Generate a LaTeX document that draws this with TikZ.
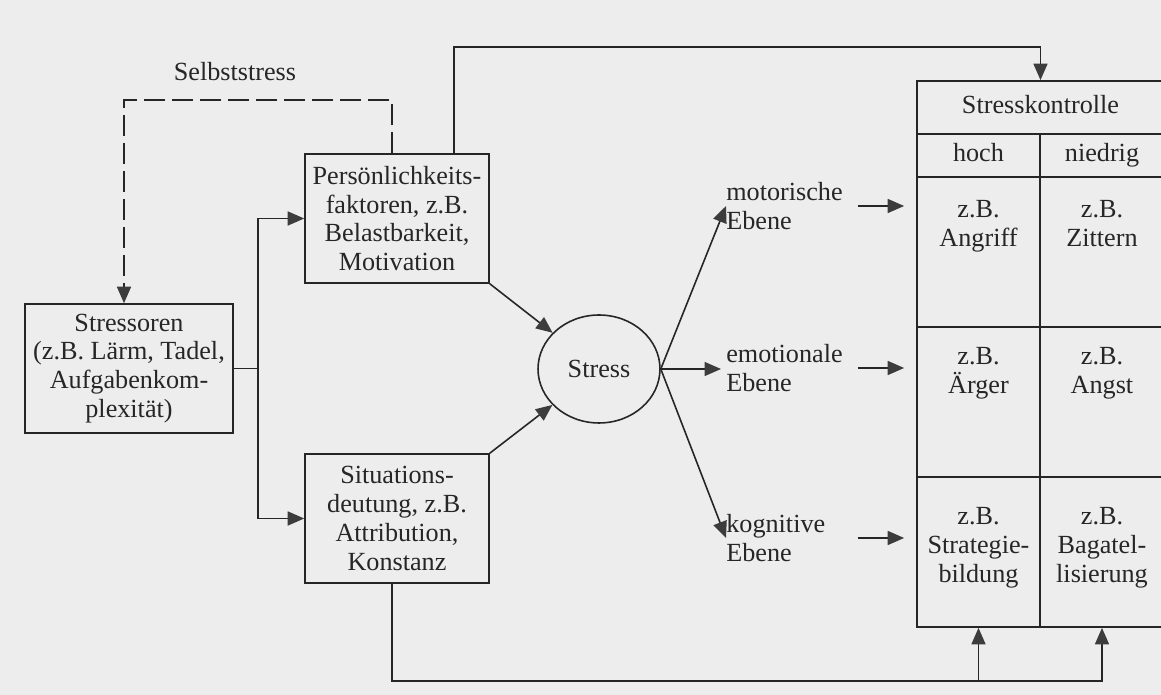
\documentclass[tikz,border=0pt]{standalone}
\usepackage{fontspec}
\setmainfont{Liberation Serif}
\usepackage{tikz}
\usetikzlibrary{arrows.meta,positioning,calc,shapes.geometric}
\definecolor{druck}{HTML}{262626}
\definecolor{spitze}{HTML}{3C3C3C}
\definecolor{papier}{HTML}{EDEDED}
\tikzset{
  % kästen
  kasten/.style={rectangle,draw=druck,line width=0.9pt,inner sep=0pt,
                 align=center,minimum height=2.58cm},
  kreis/.style={ellipse,draw=druck,line width=0.9pt,inner sep=0pt,
                minimum width=2.44cm,minimum height=2.16cm},
  ebene/.style={align=left,text width=2.56cm,inner sep=0pt,anchor=west},
  zelle/.style={rectangle,draw=druck,line width=1pt,inner sep=0pt,
                text height=0.68em,text depth=0pt},
  eintrag/.style={align=center,inner sep=0pt,anchor=north},
  % pfeile
  pfeil/.style={-{Triangle[length=3.3mm,width=2.8mm,color=spitze]},draw=druck,line width=0.9pt},
  selbstpfeil/.style={pfeil,dash pattern=on 0.42cm off 0.14cm},
}
\begin{document}
\begin{tikzpicture}[x=0.02cm,y=-0.02cm,every node/.append style={font=\fontsize{14.9}{16.4}\selectfont,text=druck}]
  \fill[papier] (0,0) rectangle (1161,695);
  \useasboundingbox (0,0) rectangle (1161,695);
  \clip (0,0) rectangle (1161,695);
  \node (selbst) at (235,72) {Selbststress};
  \node[kasten,minimum width=4.16cm] (stressoren) at (129,368.5) {Stressoren\\(z.B. Lärm, Tadel,\\Aufgabenkom-\\plexität)};
  \node[kasten,minimum width=3.68cm] (pers) at (397,218.5) {Persönlichkeits-\\faktoren, z.B.\\Belastbarkeit,\\Motivation};
  \node[kasten,minimum width=3.68cm] (sit) at (397,518.5) {Situations-\\deutung, z.B.\\Attribution,\\Konstanz};
  \node[kreis] (stress) at (599,369) {Stress};
  \node[ebene] (motor) at (726,206) {motorische\\Ebene};
  \node[ebene] (emo) at (726,368) {emotionale\\Ebene};
  \node[ebene] (kog) at (726,538) {kognitive\\Ebene};
  % tabelle
  \node[zelle,minimum width=4.94cm,minimum height=1.06cm] (kopf) at (1040.5,107.5) {Stresskontrolle};
  \node[zelle,minimum width=2.46cm,minimum height=0.86cm] (hoch) at (978.5,155.5) {hoch};
  \node[zelle,minimum width=2.48cm,minimum height=0.86cm] (niedrig) at (1102,155.5) {niedrig};
  \node[zelle,minimum width=2.46cm,minimum height=3cm] (a1) at (978.5,252) {};
  \node[zelle,minimum width=2.48cm,minimum height=3cm] (a2) at (1102,252) {};
  \node[zelle,minimum width=2.46cm,minimum height=3cm] (b1) at (978.5,402) {};
  \node[zelle,minimum width=2.48cm,minimum height=3cm] (b2) at (1102,402) {};
  \node[zelle,minimum width=2.46cm,minimum height=3cm] (c1) at (978.5,552) {};
  \node[zelle,minimum width=2.48cm,minimum height=3cm] (c2) at (1102,552) {};
  \node[eintrag] (ta1) at (978.5,200) {z.B.\\Angriff};
  \node[eintrag] (ta2) at (1102,200) {z.B.\\Zittern};
  \node[eintrag] (tb1) at (978.5,347) {z.B.\\Ärger};
  \node[eintrag] (tb2) at (1102,347) {z.B.\\Angst};
  \node[eintrag] (tc1) at (978.5,507) {z.B.\\Strategie-\\bildung};
  \node[eintrag] (tc2) at (1102,507) {z.B.\\Bagatel-\\lisierung};
  % selbststress
  \draw[selbstpfeil] ([xshift=-0.1cm]pers.north) -- ++(0,-53) -| ([xshift=-0.1cm]stressoren.north);
  % stressoren -> moderatoren -> stress
  \draw[pfeil] (stressoren.east) -- ++(24,0) |- (pers.west);
  \draw[pfeil] (stressoren.east) -- ++(24,0) |- (sit.west);
  \draw[pfeil] (pers.south east) -- (stress);
  \draw[pfeil] (sit.north east) -- (stress);
  % ebenen
  \draw[pfeil] (stress.east) -- (motor.west);
  \draw[pfeil,shorten >=0.1cm] (stress.east) -- (stress.east -| emo.west);
  \draw[pfeil] (stress.east) -- (kog.west);
  \draw[pfeil,shorten <=0.06cm,shorten >=0.24cm] (motor.east) -- (motor.east -| kopf.west);
  \draw[pfeil,shorten <=0.06cm,shorten >=0.24cm] (emo.east) -- (emo.east -| kopf.west);
  \draw[pfeil,shorten <=0.06cm,shorten >=0.24cm] (kog.east) -- (kog.east -| kopf.west);
  % rückkopplung
  \draw[pfeil] ([xshift=-0.72cm]pers.north east) -- ++(0,-106) -| (kopf.north);
  \coordinate (unten) at (0,681);
  \draw[pfeil] ([xshift=-0.1cm]sit.south) |- (unten -| c2.south) -- (c2.south);
  \draw[pfeil] (unten -| c1.south) -- (c1.south);
\end{tikzpicture}
\end{document}
